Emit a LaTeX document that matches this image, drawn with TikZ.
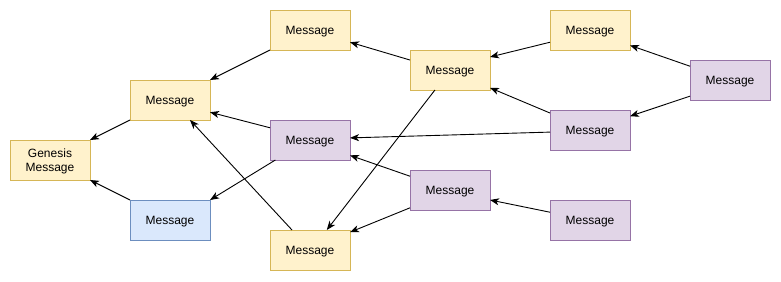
\documentclass[tikz,border=0pt]{standalone}
\usepackage{fontspec}
\setmainfont{Liberation Sans}
\usepackage{tikz}
\usetikzlibrary{arrows.meta}
\definecolor{MsgYellow}{HTML}{FFF2CC}
\definecolor{MsgYellowLine}{HTML}{D6B656}
\definecolor{MsgBlue}{HTML}{DAE8FC}
\definecolor{MsgBlueLine}{HTML}{6C8EBF}
\definecolor{MsgPurple}{HTML}{E1D5E7}
\definecolor{MsgPurpleLine}{HTML}{9673A6}

\begin{document}
\begin{tikzpicture}[
    x=1pt,y=-1pt,
    msg/.style={draw=MsgYellowLine,fill=MsgYellow,minimum width=80pt,minimum height=40pt,
      inner sep=0pt,outer sep=0pt,align=center,line width=1pt,text depth=0pt,
      font=\fontsize{12}{14}\selectfont},
    msgblue/.style={msg,draw=MsgBlueLine,fill=MsgBlue},
    msgpurple/.style={msg,draw=MsgPurpleLine,fill=MsgPurple},
    arrow/.style={-{Stealth[length=9pt,width=7pt,inset=2.5pt]},line width=0.9pt,draw=black}
  ]
    \useasboundingbox (0,0) rectangle (781,281);
    \node[msg] (genesis) at (50,160) {Genesis\\Message};
    \node[msg] (m1) at (170,100) {Message};
    \node[msgblue] (m2) at (170,220) {Message};
    \node[msg] (m3) at (310,30) {Message};
    \node[msgpurple] (m4) at (310,140) {Message};
    \node[msg] (m5) at (310,250) {Message};
    \node[msg] (m6) at (450,70) {Message};
    \node[msgpurple] (m7) at (450,190) {Message};
    \node[msg] (m8) at (590,30) {Message};
    \node[msgpurple] (m9) at (590,130) {Message};
    \node[msgpurple] (m10) at (590,220) {Message};
    \node[msgpurple] (m11) at (730,80) {Message};
    \draw[arrow] (m1.south west)--(genesis.north east);
    \draw[arrow] (m2.north west)--(genesis.south east);
    \draw[arrow] (m3.south west)--(m1.north east);
    \draw[arrow] (m4.163)--(m1.-17);\draw[arrow] (m4.210)--(m2.north east);
    \draw[arrow] (m5.132)--(m1.-45);
    \draw[arrow] (m6.166)--(m3.-17);\draw[arrow] (m6.233)--(m5.50);
    \draw[arrow] (m7.161)--(m4.-21);\draw[arrow] (m7.204)--(m5.24);
    \draw[arrow] (m8.197)--(m6.18);
    \draw[arrow] (m9.157)--(m6.-24);\draw[arrow] (m9.183)--(m4.3);
    \draw[arrow] (m10.169)--(m7.-14);
    \draw[arrow] (m11.161)--(m8.-21);\draw[arrow] (m11.202)--(m9.19);
  \end{tikzpicture}
\end{document}
